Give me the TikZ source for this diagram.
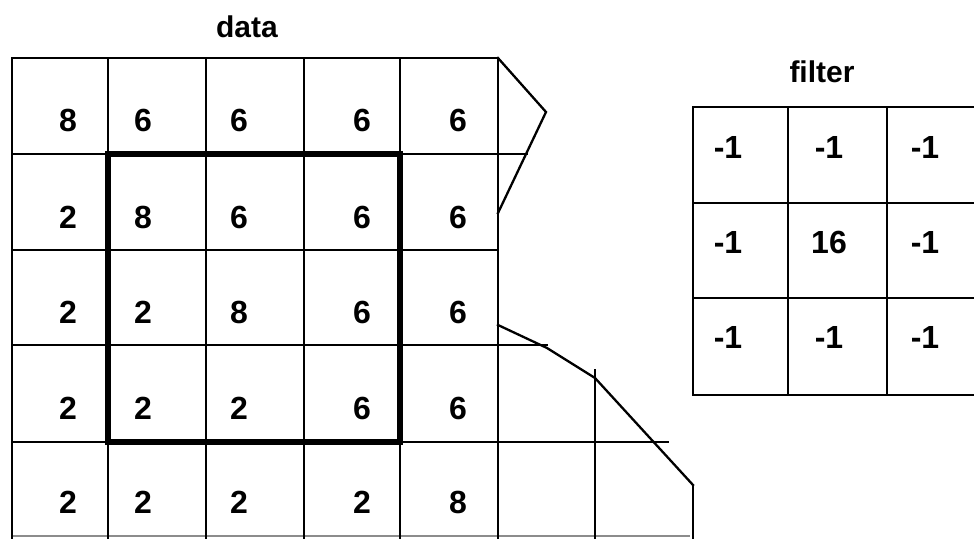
\documentclass[tikz,border=0pt]{standalone}
\usepackage{fontspec}
\setmainfont{Liberation Sans}
\begin{document}
\begin{tikzpicture}[x=1pt,y=-1pt,
  grid/.style={line width=2.3pt, line cap=rect},
  thick box/.style={line width=5.5pt, line join=miter},
  faint/.style={line width=1.5pt, black!45},
  num/.style={font=\bfseries\fontsize{32}{34}\selectfont, inner sep=0pt, anchor=center},
  title/.style={font=\bfseries\fontsize{30}{32}\selectfont, inner sep=0pt, anchor=center}]
\useasboundingbox (0,0) rectangle (974,538);

% titles
\node[title] (tdata) at (247,27) {data};
\node[title] (tfilter) at (822,72) {filter};

% data grid horizontals
\draw[grid] (12,58) -- (498,58);
\draw[grid] (12,154) -- (527,154);
\draw[grid] (12,250) -- (498,250);
\draw[grid] (12,345) -- (547,345);
\draw[grid] (12,442) -- (668,442);
\draw[faint] (12,536) -- (690,536);
% data grid verticals
\foreach \x in {12,108,206,304,400,498} \draw[grid] (\x,58) -- (\x,538);
\draw[grid] (595,370) -- (595,538);
\draw[grid] (693,485) -- (693,538);
% torn edges
\draw[grid, line join=miter] (498,58) -- (546,112) -- (498,213);
\draw[grid, line join=miter] (498,325) -- (547,348) -- (595,378) -- (693,485);
% thick window
\draw[thick box] (108,154) rectangle (400,442);

% data numbers
\foreach \y/\a/\b/\c/\d/\e in {120/8/6/6/6/6, 217/2/8/6/6/6, 312/2/2/8/6/6, 408/2/2/2/6/6, 502/2/2/2/2/8}{
  \node[num] (d1-\y) at (68,\y) {\a};
  \node[num] (d2-\y) at (143,\y) {\b};
  \node[num] (d3-\y) at (239,\y) {\c};
  \node[num] (d4-\y) at (362,\y) {\d};
  \node[num] (d5-\y) at (458,\y) {\e};
}

% filter grid
\foreach \y in {107,203,298,395} \draw[grid] (693,\y) -- (976,\y);
\foreach \x in {693,788,887} \draw[grid] (\x,107) -- (\x,395);

% filter numbers
\foreach \y/\a/\b/\c in {147/-1/-1/-1, 242/-1/16/-1, 337/-1/-1/-1}{
  \node[num] (f1-\y) at (728,\y) {\a};
  \node[num] (f2-\y) at (829,\y) {\b};
  \node[num] (f3-\y) at (925,\y) {\c};
}
\end{tikzpicture}
\end{document}
